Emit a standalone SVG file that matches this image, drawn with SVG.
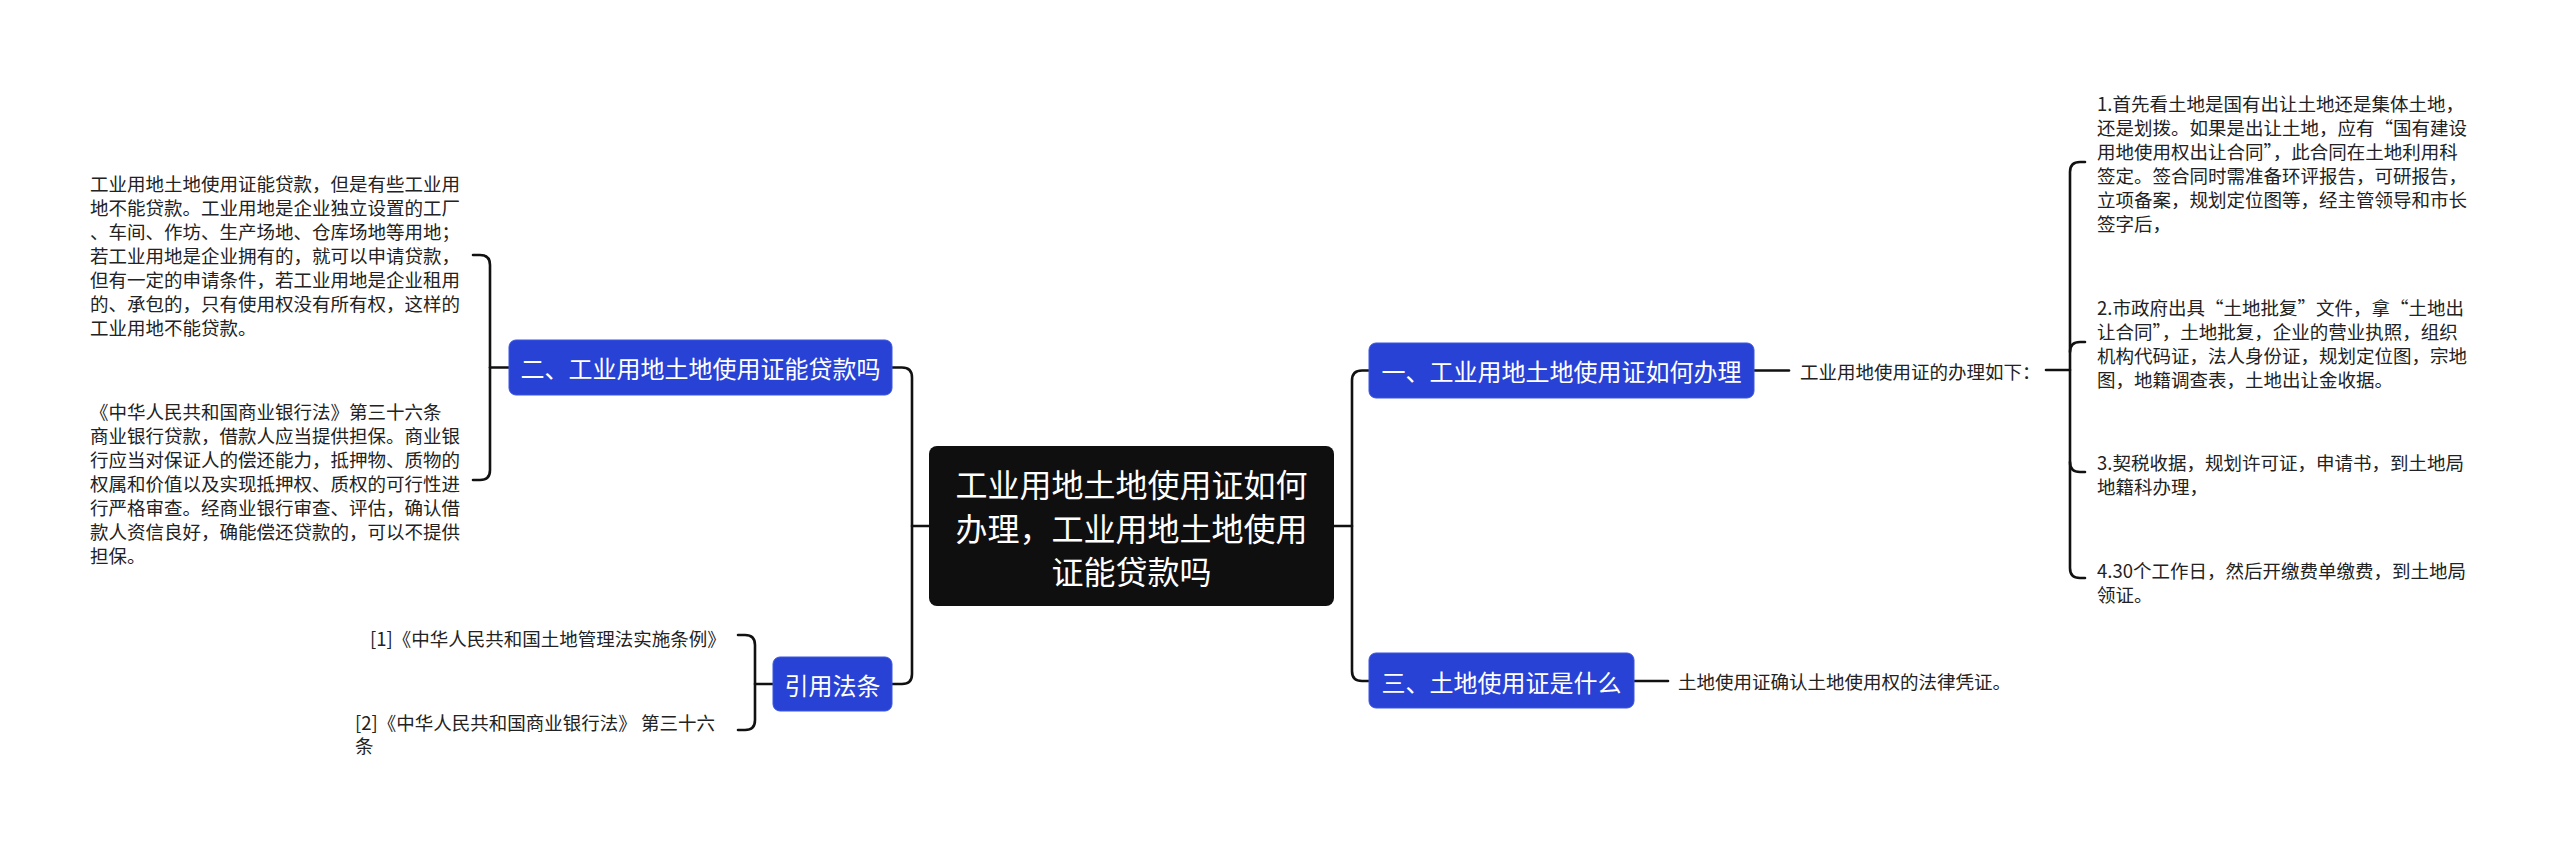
<svg xmlns="http://www.w3.org/2000/svg" width="2560" height="845" viewBox="0 0 2560 845">
<style>
text{font-family:"Noto Sans CJK SC","Noto Sans",sans-serif;dominant-baseline:central}
.t{font-size:18.5px;fill:#222}
.n{font-size:24px;fill:#fff;text-anchor:middle}
.c{font-size:32px;fill:#fff;text-anchor:middle}
.b{fill:#2942d6;stroke:#3a55e0;stroke-width:1}
.ln{fill:none;stroke:#111;stroke-width:2.6;stroke-linecap:round}
</style>
<rect width="2560" height="845" fill="#fff"/>
<g id="connectors">
<path class="ln" d="M929,526 H912"/>
<path class="ln" d="M892,367.5 H902 Q912,367.5 912,377.5 V674 Q912,684 902,684 H892"/>
<path class="ln" d="M1334,526 H1352"/>
<path class="ln" d="M1369,370.5 H1362 Q1352,370.5 1352,380.5 V671 Q1352,681 1362,681 H1369"/>
<path class="ln" d="M509,367.5 H490"/>
<path class="ln" d="M473,255 H480 Q490,255 490,265 V470 Q490,480 480,480 H473"/>
<path class="ln" d="M773,684 H755"/>
<path class="ln" d="M738,635 H745 Q755,635 755,645 V720 Q755,730 745,730 H738"/>
<path class="ln" d="M1754,370.5 H1789"/>
<path class="ln" d="M2046,370 H2070"/>
<path class="ln" d="M2085,162 H2080 Q2070,162 2070,172 V568 Q2070,578 2080,578 H2085"/>
<path class="ln" d="M2070,352 Q2070,342 2080,342 H2085"/>
<path class="ln" d="M2070,462 Q2070,472 2080,472 H2085"/>
<path class="ln" d="M1634,681 H1668"/>
</g>
<g id="center">
<rect x="929" y="446" width="405" height="160" rx="8" fill="#0f0f0f"/>
<text class="c" x="1131.5" y="483">工业用地土地使用证如何</text>
<text class="c" x="1131.5" y="527">办理，工业用地土地使用</text>
<text class="c" x="1131.5" y="570">证能贷款吗</text>
</g>
<g id="node-2">
<rect class="b" x="509" y="340" width="383" height="55" rx="7"/>
<text class="n" x="700.5" y="367.5">二、工业用地土地使用证能贷款吗</text>
</g>
<g id="node-cite">
<rect class="b" x="773" y="657" width="119" height="54" rx="7"/>
<text class="n" x="832.5" y="684">引用法条</text>
</g>
<g id="node-1">
<rect class="b" x="1369" y="343" width="385" height="55" rx="7"/>
<text class="n" x="1561.5" y="370.5">一、工业用地土地使用证如何办理</text>
</g>
<g id="node-3">
<rect class="b" x="1369" y="653" width="265" height="55" rx="7"/>
<text class="n" x="1501.5" y="681">三、土地使用证是什么</text>
</g>
<g id="left-text-1">
<text class="t" x="90" y="183">工业用地土地使用证能贷款，但是有些工业用</text>
<text class="t" x="90" y="207">地不能贷款。工业用地是企业独立设置的工厂</text>
<text class="t" x="90" y="231">、车间、作坊、生产场地、仓库场地等用地；</text>
<text class="t" x="90" y="255">若工业用地是企业拥有的，就可以申请贷款，</text>
<text class="t" x="90" y="279">但有一定的申请条件，若工业用地是企业租用</text>
<text class="t" x="90" y="303">的、承包的，只有使用权没有所有权，这样的</text>
<text class="t" x="90" y="327">工业用地不能贷款。</text>
</g>
<g id="left-text-2">
<text class="t" x="90" y="411">《中华人民共和国商业银行法》第三十六条</text>
<text class="t" x="90" y="435">商业银行贷款，借款人应当提供担保。商业银</text>
<text class="t" x="90" y="459">行应当对保证人的偿还能力，抵押物、质物的</text>
<text class="t" x="90" y="483">权属和价值以及实现抵押权、质权的可行性进</text>
<text class="t" x="90" y="507">行严格审查。经商业银行审查、评估，确认借</text>
<text class="t" x="90" y="531">款人资信良好，确能偿还贷款的，可以不提供</text>
<text class="t" x="90" y="555">担保。</text>
</g>
<g id="cite-1">
<text class="t" x="370" y="638">[1]《中华人民共和国土地管理法实施条例》</text>
</g>
<g id="cite-2">
<text class="t" x="355" y="722">[2]《中华人民共和国商业银行法》 第三十六</text>
<text class="t" x="355" y="745">条</text>
</g>
<g id="n1-child">
<text class="t" x="1800" y="371">工业用地使用证的办理如下：</text>
</g>
<g id="step-1">
<text class="t" x="2097" y="103">1.首先看土地是国有出让土地还是集体土地，</text>
<text class="t" x="2097" y="127">还是划拨。如果是出让土地，应有“国有建设</text>
<text class="t" x="2097" y="151">用地使用权出让合同”，此合同在土地利用科</text>
<text class="t" x="2097" y="175">签定。签合同时需准备环评报告，可研报告，</text>
<text class="t" x="2097" y="199">立项备案，规划定位图等，经主管领导和市长</text>
<text class="t" x="2097" y="223">签字后，</text>
</g>
<g id="step-2">
<text class="t" x="2097" y="307">2.市政府出具“土地批复”文件，拿“土地出</text>
<text class="t" x="2097" y="331">让合同”，土地批复，企业的营业执照，组织</text>
<text class="t" x="2097" y="355">机构代码证，法人身份证，规划定位图，宗地</text>
<text class="t" x="2097" y="379">图，地籍调查表，土地出让金收据。</text>
</g>
<g id="step-3">
<text class="t" x="2097" y="462">3.契税收据，规划许可证，申请书，到土地局</text>
<text class="t" x="2097" y="486">地籍科办理，</text>
</g>
<g id="step-4">
<text class="t" x="2097" y="570">4.30个工作日，然后开缴费单缴费，到土地局</text>
<text class="t" x="2097" y="594">领证。</text>
</g>
<g id="n3-child">
<text class="t" x="1678" y="681">土地使用证确认土地使用权的法律凭证。</text>
</g>
</svg>
